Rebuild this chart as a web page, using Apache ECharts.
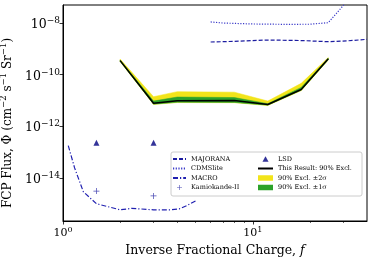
<!DOCTYPE html>
<html><head><meta charset="utf-8">
<script src="https://cdn.jsdelivr.net/npm/echarts@6/dist/echarts.min.js"></script>
<style>html,body{margin:0;padding:0;background:#fff}#c{width:374px;height:262px}</style>
</head><body><div id="c"></div>
<script>
// ---- data (raw values, f and flux) ----
const resultF     = [2, 3, 4, 8, 12, 18, 25];
const resultFlux  = [3.5e-10, 7.8e-12, 9.8e-12, 1.0e-11, 7.0e-12, 2.66e-11, 4.1e-10];
const band2Low    = [3.2e-10, 7.0e-12, 8.3e-12, 8.2e-12, 6.4e-12, 2.4e-11, 3.7e-10];
const band2High   = [4.0e-10, 1.4e-11, 2.2e-11, 2.1e-11, 9.5e-12, 4.6e-11, 4.6e-10];
const band1Low    = [3.3e-10, 7.2e-12, 8.5e-12, 8.4e-12, 6.6e-12, 2.5e-11, 3.8e-10];
const band1High   = [3.7e-10, 9.5e-12, 1.36e-11, 1.3e-11, 7.5e-12, 3.2e-11, 4.3e-10];
const majoranaF    = [6, 8, 12, 18, 25, 32, 40];
const majoranaFlux = [1.84e-9, 1.95e-9, 2.2e-9, 2.1e-9, 1.89e-9, 2.06e-9, 2.34e-9];
const cdmsF    = [6, 7, 10, 15, 20, 25, 30.5];
const cdmsFlux = [1.1e-8, 1.0e-8, 0.92e-8, 0.89e-8, 0.9e-8, 1.03e-8, 5.5e-8];
const macroF    = [1.066, 1.15, 1.28, 1.5, 2, 2.3, 3, 3.7, 4.1, 4.5, 5.1];
const macroFlux = [1.78e-13, 2.5e-14, 2.9e-15, 1.0e-15, 5.8e-16, 6.6e-16, 5.8e-16, 5.8e-16, 6.3e-16, 8.5e-16, 1.4e-15];
const lsdF    = [1.5, 3];
const lsdFlux = [2.3e-13, 2.3e-13];
const kamF    = [1.5, 3];
const kamFlux = [3.1e-15, 2.0e-15];
const xMajorTicks = [1, 10];
const xMinorTicks = [2, 3, 4, 5, 6, 7, 8, 9, 20, 30];
const yMajorTicks = [1e-14, 1e-12, 1e-10, 1e-8];
const xRange = [1, 40];
const yRange = [2.14e-16, 5.0e-8];

// ---- helpers ----
const L = Math.log10;
const pts = (xs, ys) => xs.map((x, i) => [L(x), L(ys[i])]);
const bandData = (xs, lo, hi) => xs.map((x, i) => [L(x), L(lo[i]), L(hi[i])]);
const FONT = 'DejaVu Serif';
const sup = v => '{b|10}{s|' + (v < 0 ? '\u2212' : '') + Math.abs(Math.round(v)) + '}';
const supRich = (b, s, lift) => ({
  b: {fontFamily: FONT, fontSize: b, color: '#000', verticalAlign: 'bottom', lineHeight: b + 4},
  s: {fontFamily: FONT, fontSize: s, color: '#000', verticalAlign: 'bottom', padding: [0, 0, lift, 0], lineHeight: b + 4}
});
const PLUS = 'path://M4.4,0H5.6V4.4H10V5.6H5.6V10H4.4V5.6H0V4.4H4.4Z';
const TRI = 'path://M5,0L10,9H0Z';

function bandSeries(name, data, color, z) {
  return {
    name: name, type: 'custom', data: data, z: z,
    itemStyle: {color: color},
    encode: {x: 0, y: [1, 2]},
    renderItem: function (params, api) {
      if (params.dataIndex !== 0) return null;
      const upper = data.map(d => api.coord([d[0], d[2]]));
      const lower = data.map(d => api.coord([d[0], d[1]])).reverse();
      return {type: 'polygon', shape: {points: upper.concat(lower)},
              style: {fill: color, stroke: color, lineWidth: 0.5}};
    }
  };
}

const chart = echarts.init(document.getElementById('c'), null, {renderer: 'canvas'});
const legendText = {fontFamily: FONT, fontSize: 6.5, color: '#000', lineHeight: 7};
const noSym = {opacity: 0};
const yNameRich = supRich(12, 8.5, 6);
const option = {
  animation: false,
  backgroundColor: '#fff',
  grid: {left: 63, right: 7, top: 5, bottom: 41, containLabel: false, outerBoundsMode: 'none',
         show: true, borderColor: '#000', borderWidth: 1, backgroundColor: 'transparent'},
  xAxis: [{
    type: 'value', min: L(xRange[0]), max: L(xRange[1]),
    axisLine: {lineStyle: {color: '#000', width: 1}},
    axisTick: {length: 3.5, lineStyle: {color: '#000', width: 0.8}, customValues: xMajorTicks.map(L)},
    axisLabel: {customValues: xMajorTicks.map(L), formatter: v => sup(v), margin: 3, rich: supRich(11, 8, 5)},
    splitLine: {show: false},
    name: 'Inverse Fractional Charge, {i|f}', nameLocation: 'middle', nameGap: 19,
    nameTextStyle: {fontFamily: FONT, fontSize: 12.5, color: '#000',
      rich: {i: {fontFamily: FONT, fontStyle: 'italic', fontSize: 12.5, color: '#000'}}}
  }, {
    type: 'value', min: L(xRange[0]), max: L(xRange[1]), position: 'bottom',
    axisLine: {show: false},
    axisTick: {length: 2, lineStyle: {color: '#000', width: 0.6}, customValues: xMinorTicks.map(L)},
    axisLabel: {show: false}, splitLine: {show: false}
  }],
  yAxis: {
    type: 'value', min: L(yRange[0]), max: L(yRange[1]),
    axisLine: {show: true, lineStyle: {color: '#000', width: 1}},
    axisTick: {show: true, length: 3.5, lineStyle: {color: '#000', width: 0.8}, customValues: yMajorTicks.map(L)},
    axisLabel: {customValues: yMajorTicks.map(L), formatter: v => sup(v), margin: 3, rich: supRich(12.5, 9, 6)},
    splitLine: {show: false},
    name: '{b|FCP Flux, \u03a6 (cm}{s|\u22122}{b| s}{s|\u22121}{b| Sr}{s|\u22121}{b|)}',
    nameLocation: 'middle', nameGap: 44, nameRotate: 90,
    nameTextStyle: {rich: yNameRich, padding: [0, 20, 0, 0]}
  },
  graphic: [{type: 'rect', z: 3, silent: true,
    shape: {x: 171, y: 152, width: 191, height: 44, r: 2},
    style: {fill: 'rgba(255,255,255,0.8)', stroke: '#cccccc', lineWidth: 1}}],
  legend: [{
    left: 172, top: 155.5, orient: 'vertical', padding: 0, itemGap: 2.5, itemWidth: 13, itemHeight: 5,
    textStyle: legendText, z: 5,
    data: [{name: 'MAJORANA', itemStyle: noSym}, {name: 'CDMSlite', itemStyle: noSym},
           {name: 'MACRO', itemStyle: noSym}, {name: 'Kamiokande-II', icon: PLUS}]
  }, {
    left: 257, top: 155.5, orient: 'vertical', padding: 0, itemGap: 2.5, itemWidth: 15, itemHeight: 5.5,
    textStyle: legendText, z: 5,
    data: [{name: 'LSD', icon: TRI, itemStyle: {borderWidth: 0}}, {name: 'This Result: 90% Excl.', itemStyle: noSym},
           {name: '90% Excl. \u00b12\u03c3', icon: 'rect'}, {name: '90% Excl. \u00b11\u03c3', icon: 'rect'}]
  }],
  series: [
    bandSeries('90% Excl. \u00b12\u03c3', bandData(resultF, band2Low, band2High), '#f2e41a', 2),
    bandSeries('90% Excl. \u00b11\u03c3', bandData(resultF, band1Low, band1High), '#2ca22a', 3),
    {name: 'This Result: 90% Excl.', type: 'line', data: pts(resultF, resultFlux), symbol: 'none',
     lineStyle: {color: '#000', width: 1.5}, itemStyle: {color: '#000'}, z: 4},
    {name: 'MAJORANA', type: 'line', data: pts(majoranaF, majoranaFlux), symbol: 'none',
     lineStyle: {color: '#1c1ca0', width: 1.2, type: [4, 2]}, itemStyle: {color: '#1c1ca0'}},
    {name: 'CDMSlite', type: 'line', data: pts(cdmsF, cdmsFlux), symbol: 'none',
     lineStyle: {color: '#3a3ac8', width: 1.2, type: [1.2, 1.5]}, itemStyle: {color: '#3a3ac8'}},
    {name: 'MACRO', type: 'line', data: pts(macroF, macroFlux), symbol: 'none',
     lineStyle: {color: '#2020b0', width: 1.2, type: [5, 2, 1.2, 2]}, itemStyle: {color: '#2020b0'}},
    {name: 'LSD', type: 'scatter', data: pts(lsdF, lsdFlux), symbol: 'triangle', symbolSize: 6,
     itemStyle: {color: '#000080'}},
    {name: 'Kamiokande-II', type: 'scatter', data: pts(kamF, kamFlux), symbol: PLUS, symbolSize: 6,
     itemStyle: {color: '#1c1ca0'}}
  ]
};
chart.setOption(option);
</script>
</body></html>
